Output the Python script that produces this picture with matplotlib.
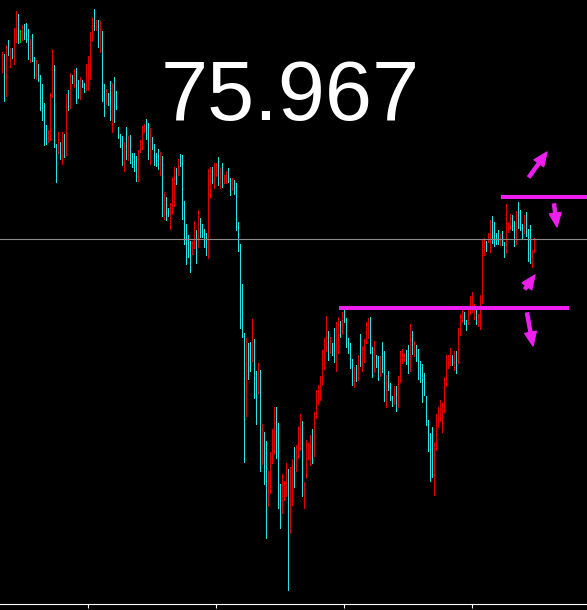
import matplotlib
matplotlib.use("Agg")
import matplotlib.pyplot as plt
import numpy as np

# bar highs / lows (oldest -> newest)
highs = [
    77.84, 77.82, 77.91, 77.96, 77.88, 77.88, 78.08, 78.25, 78.22, 78.06,
    78.11, 78.12, 78.13, 78.07, 77.97, 78.02, 77.79, 77.76, 77.72, 77.61,
    77.52, 77.33, 77.11, 77.06, 77.43, 77.87, 77.71, 76.92, 77.04, 76.94,
    77.04, 77.02, 77.42, 77.46, 77.63, 77.61, 77.67, 77.68,
    77.56, 77.59, 77.56, 77.53, 77.72, 77.80, 78.04, 78.19, 78.27, 78.16,
    78.16, 78.15, 78.05, 77.52, 77.47, 77.43, 77.55, 77.53, 77.59, 77.45,
    77.09, 77.02, 77.00, 76.94, 77.09, 77.00, 77.01, 76.83, 76.83, 76.80,
    76.86, 76.96, 77.10, 77.12, 77.17, 77.13, 77.08, 76.99, 76.92,
    76.83, 76.87, 76.84, 76.80, 76.44, 76.39, 76.28, 76.33, 76.59, 76.69,
    76.68, 76.77, 76.82, 76.81, 76.35, 76.12, 76.01, 75.95, 75.95, 76.15,
    76.06, 76.26, 76.18, 76.12, 76.07, 76.03, 76.67, 76.69, 76.69, 76.73,
    76.73, 76.79, 76.68, 76.73, 76.61, 76.65, 76.68, 76.58,
    76.58, 76.56, 76.53, 76.14, 75.92, 75.52, 75.03, 74.98, 74.93, 74.94,
    75.17, 74.97, 74.65, 74.73, 74.66, 74.12, 74.04, 73.95, 73.65, 73.84,
    74.07, 74.29, 74.29, 74.13, 73.52, 73.62, 73.55, 73.73, 73.67, 73.69,
    73.77, 73.89, 73.91, 74.09, 74.22, 74.15, 73.54, 73.96, 73.93,
    74.01, 74.07, 74.24, 74.46, 74.51, 74.60, 74.86, 74.98, 75.20, 75.05,
    74.99, 74.93, 75.08, 75.14, 75.19, 75.15, 75.24, 75.26, 75.18, 74.98,
    74.93, 74.77, 74.69, 74.71, 74.81, 75.02, 74.90, 74.97, 75.14, 75.18,
    75.19, 74.89, 74.95, 74.81, 74.80, 74.80, 74.94, 74.85,
    74.61, 74.65, 74.53, 74.40, 74.50, 74.50, 74.60, 74.85, 74.87, 74.83,
    74.86, 74.91, 75.12, 75.05, 74.95, 74.91, 74.87, 74.75, 74.72, 74.63,
    74.40, 74.16, 74.03, 74.09, 73.94, 74.22, 74.29, 74.36, 74.33, 74.59,
    74.81, 74.81, 74.88, 74.81, 74.85, 74.85, 75.08, 75.22, 75.26,
    75.24, 75.16, 75.26, 75.40, 75.44, 75.32, 75.28, 75.22, 75.41,
    75.97, 75.98, 75.95, 76.03, 76.16, 76.20, 76.14, 76.03, 76.06, 76.02,
    76.05, 75.94, 76.32, 76.13, 76.22, 76.21, 76.15, 76.25, 76.34, 76.26,
    76.12, 76.21, 76.24, 76.07, 76.11, 75.86, 75.98,
]
lows = [
    77.64, 77.35, 77.40, 77.81, 77.69, 77.78, 77.72, 77.94, 77.93, 77.94,
    77.96, 77.97, 77.94, 77.77, 77.74, 77.75, 77.58, 77.57, 77.55, 77.26,
    77.16, 76.91, 76.92, 76.94, 76.96, 77.39, 76.89, 76.54, 76.82, 76.77,
    76.72, 76.79, 76.81, 77.26, 77.28, 77.53, 77.49, 77.33,
    77.38, 77.37, 77.49, 77.44, 77.46, 77.46, 77.57, 77.96, 78.06, 78.06,
    77.89, 77.84, 77.35, 77.20, 77.32, 77.31, 77.16, 77.04, 77.14, 77.27,
    76.98, 76.89, 76.71, 76.65, 76.77, 76.76, 76.73, 76.69, 76.65, 76.55,
    76.55, 76.84, 76.87, 77.04, 76.97, 76.77, 76.72, 76.87, 76.71,
    76.70, 76.67, 76.61, 76.20, 76.17, 76.16, 76.20, 76.07, 76.22, 76.30,
    76.52, 76.61, 76.70, 76.17, 75.92, 75.72, 75.79, 75.64, 75.82, 75.88,
    75.73, 75.89, 75.99, 75.99, 75.89, 75.81, 75.78, 76.38, 76.53, 76.48,
    76.60, 76.51, 76.48, 76.49, 76.53, 76.53, 76.54, 76.41,
    76.46, 76.42, 76.06, 75.85, 75.08, 74.99, 73.74, 74.20, 74.57, 74.65,
    74.74, 74.38, 74.12, 74.42, 73.65, 73.72, 73.52, 72.98, 73.30, 73.43,
    73.73, 73.82, 73.78, 73.28, 73.08, 73.23, 73.36, 73.40, 72.46, 73.03,
    73.31, 73.49, 73.65, 73.78, 73.86, 73.40, 73.28, 73.58, 73.77,
    73.71, 73.73, 73.80, 74.18, 74.32, 74.36, 74.52, 74.67, 74.85, 74.76,
    74.83, 74.81, 74.74, 74.65, 74.83, 74.99, 75.02, 75.14, 74.89, 74.83,
    74.68, 74.51, 74.49, 74.55, 74.56, 74.70, 74.65, 74.74, 74.93, 74.98,
    74.83, 74.59, 74.64, 74.69, 74.56, 74.60, 74.64, 74.35,
    74.29, 74.46, 74.36, 74.30, 74.32, 74.25, 74.29, 74.54, 74.73, 74.75,
    74.72, 74.63, 74.65, 74.82, 74.80, 74.75, 74.57, 74.54, 74.34, 74.41,
    74.11, 73.85, 73.55, 73.59, 73.41, 73.86, 74.09, 74.15, 74.04, 74.24,
    74.50, 74.68, 74.71, 74.71, 74.66, 74.63, 74.73, 75.01, 75.14,
    75.12, 75.06, 75.12, 75.22, 75.24, 75.17, 75.12, 75.10, 75.07,
    75.33, 75.81, 75.85, 75.94, 75.84, 75.93, 75.90, 75.92, 75.92, 75.91,
    75.91, 75.79, 75.83, 76.04, 76.07, 76.06, 75.90, 75.92, 76.08, 76.06,
    75.97, 76.03, 76.00, 75.75, 75.73, 75.69, 75.84,
]
# bar colour: c = up (cyan), r = down (red), g = doji (green)
bar_dir = (
    "rcrcrcrrcg" "rcccrccrcc" "cccrrrccrc" "rcrcrcrc"
    "crccrrrrcr" "crccrccrcc" "cccrcrcccc" "rrrrccrcc"
    "ccrcrccrrr" "crccccccrr" "crccccrrcr" "rcrcrrcc"
    "rccccccrcc" "rccrcrccrr" "rrcccrrrcr" "rcrrrcrrr"
    "rcrrrrrrrc" "rccrrcrccc" "ccrcrcrrrr" "ccrccrcc"
    "rcccrcrrrr" "ccrcrccccc" "ccccrrrrrr" "rrrcrcrrr"
    "ccrrrrcrr"
    "rrcrrccccr" "ccrrrccrcc" "crcccrr"
)
last_price = 75.967

# hand-drawn level lines: (price, first bar, last bar)
level_lines = [(76.39, 249.75, 292.75), (75.28, 168.75, 283.75)]
# arrows: (tail, head) in (bar, price)
arrows = [
    ((263.75, 76.59), (272.75, 76.84)),
    ((276.25, 76.32), (277.75, 76.09)),
    ((261.75, 75.47), (266.75, 75.61)),
    ((262.75, 75.23), (265.75, 74.90)),
]
tick_bars = [43, 107, 171, 235]

assert len(highs) == len(lows) == len(bar_dir)

palette = {"c": "#22e6e6", "r": "#e00000", "g": "#00c000"}
magenta = "#ee1eee"

fig = plt.figure(figsize=(5.87, 6.10), dpi=100, facecolor="black")
ax = fig.add_axes([0, 6 / 610, 1, 604 / 610])
ax.set_facecolor("black")

idx = np.arange(len(highs))
cols = [palette[d] for d in bar_dir]
ax.vlines(idx, lows, highs, colors=cols, linewidth=0.72, antialiased=False)

ax.axhline(last_price, color="#8a8a8a", linewidth=0.8)

for lvl, x0, x1 in level_lines:
    ax.hlines(lvl, x0, x1, colors=magenta, linewidth=2.9)

for tail, head in arrows:
    ax.annotate("", xy=head, xytext=tail,
                arrowprops=dict(arrowstyle="simple,head_length=1.0,head_width=0.85,tail_width=0.22",
                                color=magenta, shrinkA=0, shrinkB=0, mutation_scale=10))

fig.text(0.494, 1 - 120 / 610, f"{last_price:.3f}", color="white", fontsize=61,
         family="Liberation Sans", ha="center", va="baseline")

ax.set_xlim(-0.75, 292.75)
ax.set_ylim(72.32, 78.36)
ax.set_xticks(tick_bars)
ax.set_xticklabels([])
ax.set_yticks([])
for s in ["top", "left", "right"]:
    ax.spines[s].set_visible(False)
ax.spines["bottom"].set_color("white")
ax.spines["bottom"].set_linewidth(0.8)
ax.tick_params(axis="x", colors="white", length=3, width=0.8, direction="out")

fig.savefig("out.png", dpi=100, facecolor="black")
